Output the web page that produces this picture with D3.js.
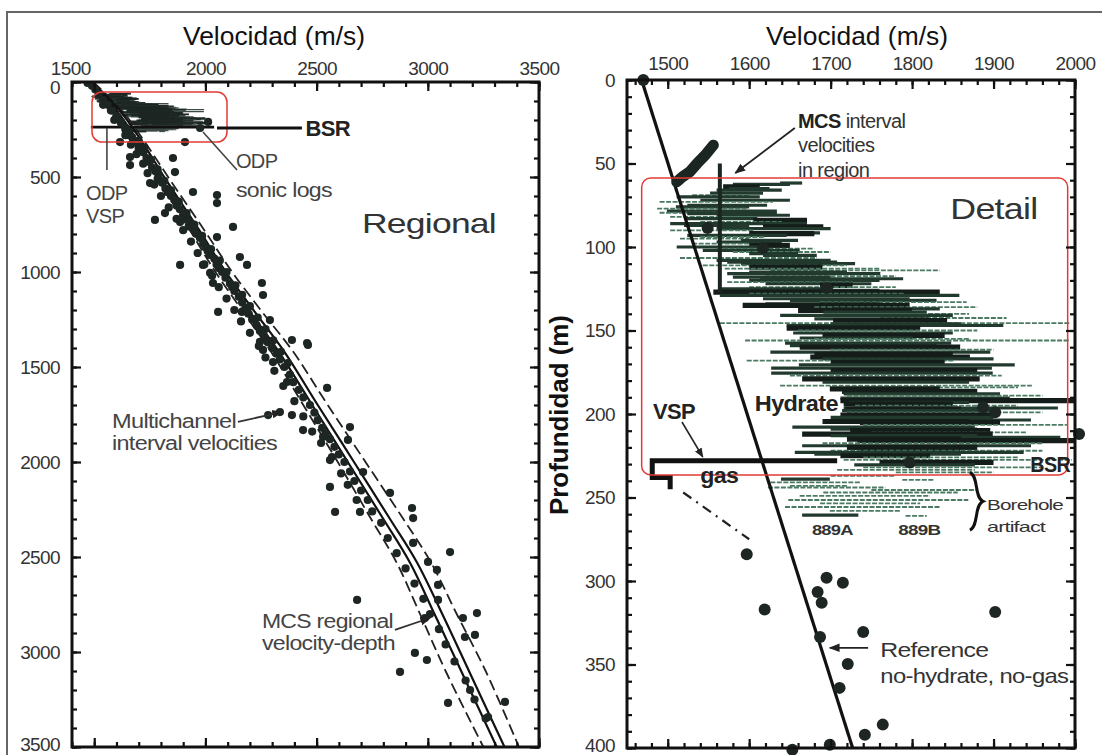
<!DOCTYPE html>
<html><head><meta charset="utf-8">
<script src="https://cdn.jsdelivr.net/npm/d3@7/dist/d3.min.js"></script>
<style>
body{margin:0;background:#fff;}
svg{display:block;font-family:"Liberation Sans",Arial,sans-serif;}
.tick text{font-size:19px;fill:#333;font-family:"Liberation Sans",Arial,sans-serif;}
.tick line{stroke:#111;stroke-width:2.2;}
</style></head><body>
<svg id="c" width="1102" height="755"></svg>
<script>
// ---------- DATA ----------
const leftVelDomain = [1400, 3500];
const leftDepthDomain = [0, 3500];
const rightVelDomain = [1450, 2000];
const rightDepthDomain = [0, 400];
const leftXTicks = [1500, 2000, 2500, 3000, 3500];
const leftYTicks = [0, 500, 1000, 1500, 2000, 2500, 3000, 3500];
const rightXTicks = [1500, 1600, 1700, 1800, 1900, 2000];
const rightYTicks = [0, 50, 100, 150, 200, 250, 300, 350, 400];

// Regional: multichannel interval velocities [velocity m/s, depth m]
const regionalDots = [
 [1470,5],[1490,20],[1505,40],[1520,65],[1540,95],[1560,120],[1580,150],[1600,185],[1620,215],[1640,250],
 [1655,280],[1675,305],[1616,316],[1692,316],[1908,316],[2012,210],[1976,242],[1700,330],[1725,345],
 [1661,395],[1661,437],[1751,532],[1854,400],[1863,474],[1944,579],[2052,595],[2052,637],[1773,726],[1818,690],
 [1886,737],[2124,763],[2052,816],[1886,963],[1989,963],[2021,1005],[2034,1058],[2155,921],[2187,963],[2254,1058],
 [2259,1121],[2057,1210],[2164,1210],[2290,1253],[2389,1358],[2457,1374],[2245,1368],[2259,1410],
 [2461,1384],[2304,1474],[2367,1579],[2547,1610],[2335,1737],[2282,1753],[2389,1753],[2439,1832],[2650,1816],
 [2641,1884],[2569,1974],[2529,1868],[2560,2131],[2583,2263],[2695,2263],[2830,2163],[2709,2053],[2934,2295],
 [2934,2426],[3100,2474],[2929,2242],
 [3001,2526],[3041,2568],[3046,2647],[3046,2726],[2682,2726],[3158,2821],[3221,2795],[3167,2921],[3212,2910],
 [2987,2821],[2942,3005],[2996,3042],[2875,3105],[3190,3200],[3091,3268],[3347,3263],[3271,3342]
];
const regionalBandA = [
 [1540,120],[1575,150],[1600,180],[1620,210],[1640,240],[1655,260],[1670,290],[1690,320],[1700,350],[1720,370],
 [1735,400],[1745,420],[1760,450],[1775,470],[1790,490],[1785,510],[1805,530],[1820,560],[1830,580],[1845,600],
 [1860,620],[1870,650],[1885,670],[1900,700],[1915,720],[1930,740],[1925,760],[1950,780],[1960,800],[1975,820],
 [1990,850],[2000,870],[2010,890],[2020,910],[2040,930],[2050,960],[2060,980],[2075,1000],[2090,1030],[2110,1060],
 [2120,1080],[2130,1100],[2150,1130],[2165,1160],[2180,1190],[2195,1220],[2210,1250],[2230,1280],[2245,1310],
 [2265,1340],[2280,1370],[2300,1400],[2320,1430],[2335,1460],[2355,1500],[2380,1540],[2395,1580],[2420,1620],
 [2440,1660],[2470,1700],[2490,1740],[2505,1780],[2525,1820],[2540,1850],[2560,1880],[2580,1920],[2600,1960],
 [2625,2000],[2650,2050],[2670,2100],[2700,2150],[2730,2200],[2750,2260],[2790,2320],[2820,2400],[2860,2480],
 [2900,2560],[2940,2640],[2980,2720],[3010,2800],[3050,2880],[3080,2960],[3120,3050],[3170,3150],[3210,3250],[3260,3350]
];
const regionalBandB = [
 [1590,200],[1640,280],[1665,330],[1690,380],[1720,430],[1740,480],[1770,540],[1800,600],[1835,660],[1870,720],
 [1900,780],[1935,840],[1965,900],[1995,960],[2030,1020],[2060,1080],[2095,1140],[2130,1200],[2160,1260],[2200,1320],
 [2240,1390],[2270,1450],[2310,1520],[2350,1600],[2400,1680],[2440,1760],[2480,1840],[2520,1900],[2560,1990],
 [2610,2060],[2640,2120],[2680,2200]
];
const regionalBandC = [
 [1700,310],[1725,360],[1755,410],[1785,460],[1815,520],[1845,570],[1880,630],[1915,690],[1950,750],[1985,810],
 [2025,880],[2065,940],[2095,1000],[2135,1070],[2165,1120],[2200,1180],[2235,1240],[2270,1300],[2305,1360],
 [2340,1420],[2370,1480]
];
// MCS regional velocity-depth function (solid) and its envelope (dashed)
const regionalSolidA = [[1480,0],[1600,150],[1700,320],[1800,510],[1950,780],[2070,1000],[2200,1210],[2330,1420],[2480,1700],[2640,2000],[2800,2300],[2920,2530],[3030,2800],[3150,3100],[3310,3500]];
const regionalSolidB = [[1490,0],[1615,150],[1718,320],[1820,510],[1972,780],[2092,1000],[2222,1210],[2355,1420],[2505,1700],[2668,2000],[2830,2300],[2952,2530],[3065,2800],[3185,3100],[3345,3500]];
const regionalDashLow = [[1480,0],[1595,150],[1690,320],[1785,510],[1930,780],[2045,1000],[2170,1210],[2295,1420],[2440,1700],[2595,2000],[2745,2300],[2860,2530],[2965,2800],[3080,3100],[3250,3500]];
const regionalDashHigh = [[1495,0],[1625,150],[1730,320],[1838,510],[1995,780],[2120,1000],[2255,1210],[2395,1420],[2550,1700],[2720,2000],[2890,2300],[3015,2530],[3130,2800],[3260,3100],[3410,3500]];
const bsrLeft = [[1485,237],[2039,237]];

// ODP sonic logs: [depth m, velocity from, velocity to, kind 0=thin 1=medium 2=thick]
const sonicLogs = [
 [61.7,1638,1665,1],[62.5,1580,1650,1],[64,1568,1613,2],[65,1575,1625,1],[66,1560,1640,1],[67.7,1552,1617,1],
 [69,1530,1600,0],[70,1511,1613,1],[72,1540,1650,1],[73,1490,1629,0],[75,1524,1622,1],[76,1510,1600,1],
 [77,1487,1597,0],[78.5,1499,1634,1],[79.5,1490,1560,0],[80,1524,1634,1],[81,1560,1650,1],[82,1503,1605,0],
 [83,1520,1610,1],[84,1605,1671,2],[85,1540,1640,0],[86,1503,1671,1],[87,1520,1600,1],[88,1617,1691,2],
 [89,1560,1700,1],[90,1503,1605,0],[91.5,1629,1687,1],[92,1600,1680,2],[93,1524,1646,1],[94,1540,1620,0],
 [95,1515,1600,0],[96,1590,1660,1],[97,1560,1640,1],[98,1530,1620,0],[99,1600,1650,2],[100,1511,1617,1],
 [101,1560,1680,0],[102,1543,1662,1],[103,1580,1700,0],[104,1600,1660,1],[105,1617,1683,1],[106.6,1515,1683,0],
 [108,1560,1700,1],[109,1573,1708,1],[110,1590,1730,1],[111,1543,1720,0],[112,1600,1690,2],[113,1570,1760,0],
 [114,1626,1834,0],[115,1600,1720,1],[116,1573,1761,1],[117.5,1620,1780,0],[118,1580,1700,1],[119,1613,1789,1],
 [120,1600,1760,1],[121,1573,1727,0],[122,1620,1750,1],[123,1687,1727,2],[124,1600,1780,0],[125,1564,1703,1],
 [126,1640,1760,1],[127,1556,1834,2],[128,1600,1790,0],[129,1564,1858,1],[131,1617,1797,1],[132,1650,1830,1],
 [133,1687,1867,0],[134,1620,1760,1],[135,1592,1797,2],[136,1680,1880,0],[137,1703,1834,1],[138,1660,1800,2],
 [139,1691,1818,1],[140,1700,1870,0],[141,1638,1850,1],[142.5,1761,1916,0],[143,1680,1820,1],[144,1703,1843,2],
 [145.6,1564,1994,0],[146,1700,1860,1],[147,1646,1912,1],[148.6,1646,1810,2],[150,1660,1880,0],[151.5,1654,1850,1],
 [153,1690,1840,2],[154.5,1662,1801,1],[155,1680,1870,0],[156,1595,1993,0],[157.5,1644,1848,1],[159,1650,1830,1],
 [160,1662,1859,2],[161.5,1700,1900,0],[163,1626,1896,1],[164.5,1680,1850,2],[166,1675,1871,2],[167,1690,1900,1],
 [168,1597,1851,0],[169,1700,1840,2],[170.6,1661,1926,1],[172.5,1627,1898,1],[174,1700,1880,2],[175.5,1627,1899,1],
 [177,1650,1910,0],[179,1665,1883,2],[181,1690,1870,1],[183,1638,1947,0],[184,1720,1930,0],[185,1699,1834,2],
 [186.5,1714,1880,2],[188,1716,1908,1],[189,1720,1960,0],[190.5,1712,1920,1],[192,1712,2000,2],[193,1722,1870,1],
 [194,1716,1850,2],[195,1730,1930,0],[196.4,1716,1979,1],[197,1718,1860,2],[198,1714,1908,1],[199,1720,1960,0],
 [200.6,1712,1899,2],[202,1700,1900,1],[203.6,1708,1946,1],[204.5,1690,1870,2],[205,1736,1908,2],[206.5,1740,1990,0],
 [207.8,1653,1877,1],[209,1700,1880,1],[210,1724,1896,2],[211,1750,1940,0],[212,1665,1899,2],[213,1700,1880,1],
 [214,1761,1982,1],[215,1720,1860,2],[216,1733,2000,2],[217.5,1690,1960,0],[219,1665,1946,1],[220,1720,1880,2],
 [221,1736,1859,2],[222,1700,1960,0],[223,1656,1937,1],[224,1680,1860,1],[225,1712,1822,2],[226,1740,1930,0],
 [227.5,1716,1996,0],[229,1760,1900,2],[230.5,1729,1877,1],[232,1740,1960,0],[233.5,1708,1877,0],[235,1780,1900,0],
 [237,1700,1780,0],[239,1639,1699,1],[239.5,1788,1827,0],[241,1626,1736,0],[243,1650,1720,0],[244,1623,1767,0],
 [245.5,1750,1880,0],[247,1691,1856,0],[249,1662,1822,0],[251.5,1648,1869,0],[253.5,1687,1810,0],[255.7,1644,1834,0],
 [258,1699,1785,0],[260.5,1665,1734,1],[261,1792,1818,0]
];
// Detail panel
const referenceLine = [[1468,0],[1727,400]];
const mcsRegionVel = [[1556,39],[1546,45],[1536,50],[1527,55],[1518,58],[1511,61]];
const mcsVertical = [[1564,50],[1564,127]];
const vspSteps = [[1708,228],[1481,228],[1481,238],[1503,238],[1503,245]];
const gasTrend = [[1519,247],[1600,275]];
const detailDots = [
 [1470,0],[1549,88.6],[1617,100.6],[1695,124.5],[1887,196],[1902,199],[2005,212],[1797,229],
 [1597,284],[1619,317],[1695,298],[1715,301],[1684,306.6],[1689,313],[1902,318.6],[1740,330.5],
 [1687,333.5],[1721,349.7],[1711,364],[1764,386],[1742,392],[1653,401],[1699,398]
];

// ---------- DRAW ----------
const svg = d3.select("#c");
svg.append("rect").attr("width",1102).attr("height",755).attr("fill","#fff");
svg.append("rect").attr("x",7).attr("y",12).attr("width",1120).attr("height",770)
  .attr("fill","none").attr("stroke","#666").attr("stroke-width",2);

const defs = svg.append("defs");
defs.append("marker").attr("id","arr").attr("viewBox","0 0 10 10").attr("refX",9).attr("refY",5)
  .attr("markerWidth",6).attr("markerHeight",6).attr("orient","auto")
  .append("path").attr("d","M0,1 L10,5 L0,9 z").attr("fill","#222");

const xL = d3.scaleLinear().domain(leftVelDomain).range([72,539]);
const yL = d3.scaleLinear().domain(leftDepthDomain).range([82,747]);
const xR = d3.scaleLinear().domain(rightVelDomain).range([627,1075]);
const yR = d3.scaleLinear().domain(rightDepthDomain).range([80,748]);

function clip(id, x, y){
  defs.append("clipPath").attr("id",id).append("rect")
   .attr("x",x.range()[0]).attr("y",y.range()[0])
   .attr("width",x.range()[1]-x.range()[0]).attr("height",y.range()[1]-y.range()[0]);
}
clip("cl", xL, yL); clip("cr", xR, yR);

function txt(g, x, y, s, o={}){
  const t = g.append("text").attr("x",x).attr("y",y).text(s)
   .attr("font-size",o.size||20).attr("font-weight",o.weight||"normal")
   .attr("fill",o.fill||"#333").attr("text-anchor",o.anchor||"start");
  if(o.len) t.attr("textLength",o.len).attr("lengthAdjust","spacingAndGlyphs");
  return t;
}
function seg(g, x, y, pts, o={}){
  const p = g.append("path").attr("d", d3.line().x(d=>x(d[0])).y(d=>y(d[1]))(pts))
   .attr("fill","none").attr("stroke",o.stroke||"#222").attr("stroke-width",o.w||1.5);
  if(o.dash) p.attr("stroke-dasharray",o.dash);
  if(o.arrow) p.attr("marker-end","url(#arr)");
  if(o.cap) p.attr("stroke-linecap",o.cap);
  return p;
}

function axes(g, x, y, o){
  const [x0,x1]=x.range(), [y0,y1]=y.range();
  const noDomain = s => s.select(".domain").remove();
  g.append("g").attr("transform",`translate(0,${y0})`)
   .call(d3.axisTop(x).tickValues(o.xMinor).tickSize(-5).tickFormat("")).call(noDomain);
  g.append("g").attr("transform",`translate(0,${y1})`)
   .call(d3.axisBottom(x).tickValues(o.xMinor).tickSize(-5).tickFormat("")).call(noDomain);
  g.append("g").attr("transform",`translate(${x0},0)`)
   .call(d3.axisLeft(y).tickValues(o.yMinor).tickSize(-5).tickFormat("")).call(noDomain);
  g.append("g").attr("transform",`translate(${x1},0)`)
   .call(d3.axisRight(y).tickValues(o.yMinor).tickSize(-5).tickFormat("")).call(noDomain);
  const top = g.append("g").attr("class","xtop").attr("transform",`translate(0,${y0})`)
   .call(d3.axisTop(x).tickValues(o.xMajor).tickSize(-9).tickPadding(o.xPad).tickFormat(d3.format("d"))).call(noDomain);
  g.append("g").attr("transform",`translate(0,${y1})`)
   .call(d3.axisBottom(x).tickValues(o.xMajor).tickSize(-9).tickFormat("")).call(noDomain);
  const left = g.append("g").attr("class","yleft").attr("transform",`translate(${x0},0)`)
   .call(d3.axisLeft(y).tickValues(o.yMajor).tickSize(-9).tickPadding(o.yPad).tickFormat(d3.format("d"))).call(noDomain);
  g.append("g").attr("transform",`translate(${x1},0)`)
   .call(d3.axisRight(y).tickValues(o.yMajor).tickSize(-9).tickFormat("")).call(noDomain);
  g.append("rect").attr("x",x0).attr("y",y0).attr("width",x1-x0).attr("height",y1-y0)
   .attr("fill","none").attr("stroke","#111").attr("stroke-width",3);
  g.selectAll("text").attr("letter-spacing","-0.6");
  return {top,left};
}

// ===== LEFT PANEL (Regional) =====
const gL = svg.append("g");
const pL = gL.append("g").attr("clip-path","url(#cl)");
pL.selectAll(null).data(sonicLogs).join("line")
  .attr("x1",d=>xL(d[1])).attr("x2",d=>xL(d[2])).attr("y1",d=>yL(d[0])).attr("y2",d=>yL(d[0]))
  .attr("stroke",d=>d[3]===0?"#3c4a44":"#1c2622").attr("stroke-width",d=>[1.1,1.8,2.6][d[3]]);
seg(pL, xL, yL, bsrLeft, {w:2.8, stroke:"#111"});
const lineL = d3.line().x(d=>xL(d[0])).y(d=>yL(d[1])).curve(d3.curveCatmullRom);
pL.append("path").attr("d",lineL(regionalDashLow)).attr("fill","none").attr("stroke","#222").attr("stroke-width",1.8).attr("stroke-dasharray","11,5");
pL.append("path").attr("d",lineL(regionalDashHigh)).attr("fill","none").attr("stroke","#222").attr("stroke-width",1.8).attr("stroke-dasharray","11,5");
pL.append("path").attr("d",lineL(regionalSolidA)).attr("fill","none").attr("stroke","#111").attr("stroke-width",2.2);
pL.append("path").attr("d",lineL(regionalSolidB)).attr("fill","none").attr("stroke","#111").attr("stroke-width",2.2);
pL.selectAll(null).data(regionalDots.concat(regionalBandA, regionalBandB, regionalBandC)).join("circle")
  .attr("cx",d=>xL(d[0])).attr("cy",d=>yL(d[1])).attr("r",4.1).attr("fill","#1e2624");
// highlight box
gL.append("rect").attr("x",xL(1490)).attr("y",yL(53)).attr("width",xL(2097)-xL(1490)).attr("height",yL(316)-yL(53))
  .attr("rx",10).attr("fill","none").attr("stroke","#e23b36").attr("stroke-width",1.5);
// annotations
seg(gL, xL, yL, [[2052,242],[2434,242]], {w:3, stroke:"#111"});
txt(gL, xL(2450), yL(242)+8, "BSR", {size:22, weight:"bold", fill:"#222"});
seg(gL, xL, yL, [[1557,242],[1557,463]], {w:1.6, stroke:"#444"});
txt(gL, xL(1463), yL(621), "ODP", {size:20, fill:"#444"});
txt(gL, xL(1463), yL(742), "VSP", {size:20, fill:"#444"});
seg(gL, xL, yL, [[1989,263],[2142,463]], {w:1.6, stroke:"#444"});
txt(gL, xL(2137), yL(453), "ODP", {size:20, fill:"#444"});
txt(gL, xL(2137), yL(605), "sonic logs", {size:20, fill:"#444", len:96});
txt(gL, xL(2704), yL(795), "Regional", {size:28, fill:"#333", len:134});
txt(gL, xL(1580), yL(1821), "Multichannel", {size:20, fill:"#444", len:124});
txt(gL, xL(1580), yL(1937), "interval velocities", {size:20, fill:"#444", len:165});
seg(gL, xL, yL, [[2146,1789],[2344,1737]], {w:1.8, stroke:"#333", arrow:true});
txt(gL, xL(2254), yL(2874), "MCS regional", {size:20, fill:"#444", len:131});
txt(gL, xL(2254), yL(2989), "velocity-depth", {size:20, fill:"#444", len:133});
seg(gL, xL, yL, [[2852,2884],[3010,2821]], {w:1.8, stroke:"#333", arrow:true});

const axL = axes(gL, xL, yL, {xMajor:leftXTicks, yMajor:leftYTicks,
  xMinor:d3.range(1400,3501,100), yMinor:d3.range(0,3501,100), xPad:7, yPad:12});
axL.top.selectAll(".tick text").filter(d=>d===1500).attr("dx",-24);
axL.left.selectAll(".tick text").filter(d=>d===0).attr("dy","0.62em");
axL.left.selectAll(".tick text").filter(d=>d===3500).attr("dy","0.2em");

// ===== RIGHT PANEL (Detail) =====
const gR = svg.append("g");
const pR = gR.append("g").attr("clip-path","url(#cr)");
const sonicColor = ["#4b7a63","#22392e","#141d19"];
pR.selectAll(null).data(sonicLogs).join("line")
  .attr("x1",d=>xR(d[1])).attr("x2",d=>xR(d[2])).attr("y1",d=>yR(d[0])).attr("y2",d=>yR(d[0]))
  .attr("stroke",d=>sonicColor[d[3]]).attr("stroke-width",d=>[1.8,3.2,5.2][d[3]])
  .attr("stroke-dasharray",d=>d[3]===0?"5,1.5":null);
seg(pR, xR, yR, referenceLine, {w:3.2, stroke:"#111"});
seg(pR, xR, yR, mcsRegionVel, {w:11, stroke:"#1b2521", cap:"round"});
seg(pR, xR, yR, mcsVertical, {w:4, stroke:"#1b2521"});
seg(pR, xR, yR, vspSteps, {w:5, stroke:"#111"});
seg(pR, xR, yR, gasTrend, {w:2.2, stroke:"#222", dash:"10,6,2,6"});
gR.selectAll(null).data(detailDots).join("circle")
  .attr("cx",d=>xR(d[0])).attr("cy",d=>yR(d[1])).attr("r",6).attr("fill","#1e2624");
gR.append("rect").attr("x",xR(1468)).attr("y",yR(58.7)).attr("width",xR(1991)-xR(1468)).attr("height",yR(236.5)-yR(58.7))
  .attr("rx",9).attr("fill","none").attr("stroke","#e23b36").attr("stroke-width",1.5);
// annotations
const t1 = txt(gR, xR(1660), yR(28.7), "", {size:20, fill:"#333"});
t1.append("tspan").attr("font-weight","bold").attr("fill","#222").text("MCS");
t1.append("tspan").text(" interval");
txt(gR, xR(1660), yR(43.1), "velocities", {size:20, fill:"#333"});
txt(gR, xR(1660), yR(58.1), "in region", {size:20, fill:"#333"});
seg(gR, xR, yR, [[1656,28.7],[1583,55.7]], {w:1.8, stroke:"#222", arrow:true});
txt(gR, xR(1847), yR(83.2), "Detail", {size:29, fill:"#333", len:87});
txt(gR, xR(1607), yR(198), "Hydrate", {size:22, weight:"bold", fill:"#222", len:83});
txt(gR, xR(1482), yR(203), "VSP", {size:22, weight:"bold", fill:"#222", len:42});
seg(gR, xR, yR, [[1517.5,204.8],[1543,225.7]], {w:1.6, stroke:"#222", arrow:true});
txt(gR, xR(1540), yR(241.3), "gas", {size:22, weight:"bold", fill:"#222", len:38});
txt(gR, xR(1945), yR(234.7), "BSR", {size:22, weight:"bold", fill:"#222", len:40});
txt(gR, xR(1677), yR(272.5), "889A", {size:15, weight:"bold", fill:"#333", len:41});
txt(gR, xR(1783), yR(272.5), "889B", {size:15, weight:"bold", fill:"#333", len:42});
{
  const bx = xR(1871), by0 = yR(235), by1 = yR(269.5), bm = (by0+by1)/2, tip = xR(1887);
  gR.append("path").attr("d",`M${bx},${by0} C${bx+9},${by0+4} ${bx+4},${bm-4} ${tip},${bm} C${bx+4},${bm+4} ${bx+9},${by1-4} ${bx},${by1}`)
    .attr("fill","none").attr("stroke","#111").attr("stroke-width",3);
}
txt(gR, xR(1892), yR(257.5), "Borehole", {size:15, fill:"#333", len:76});
txt(gR, xR(1892), yR(270.7), "artifact", {size:15, fill:"#333", len:58});
txt(gR, xR(1761), yR(345.5), "Reference", {size:21, fill:"#333", len:108});
txt(gR, xR(1761), yR(361), "no-hydrate, no-gas", {size:21, fill:"#333", len:188});
seg(gR, xR, yR, [[1746,340],[1699,340]], {w:1.8, stroke:"#222", arrow:true});

const axR = axes(gR, xR, yR, {xMajor:rightXTicks, yMajor:rightYTicks,
  xMinor:d3.range(1460,2001,20), yMinor:d3.range(0,401,10), xPad:10, yPad:12});
axR.left.selectAll(".tick text").filter(d=>d===400).attr("dy","0.2em");

// ===== TITLES =====
txt(svg, 274, 45, "Velocidad (m/s)", {size:26, fill:"#111", anchor:"middle", len:182});
txt(svg, 857, 45, "Velocidad (m/s)", {size:26, fill:"#111", anchor:"middle", len:182});
svg.append("text").attr("transform","translate(568,415) rotate(-90)").attr("text-anchor","middle")
  .attr("font-size",25).attr("font-weight","bold").attr("fill","#111")
  .attr("textLength",200).attr("lengthAdjust","spacingAndGlyphs").text("Profundidad (m)");
</script></body></html>
